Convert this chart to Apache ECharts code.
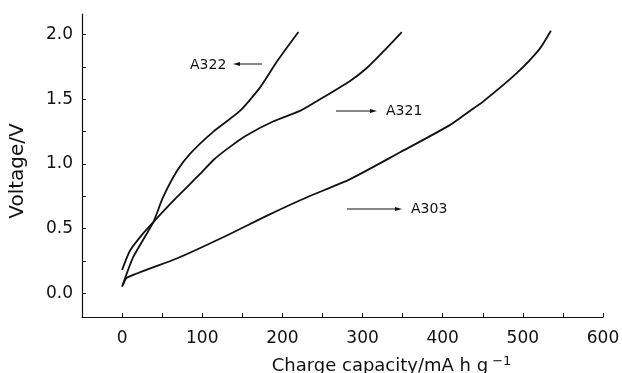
<!DOCTYPE html>
<html>
<head>
<meta charset="utf-8">
<script src="https://cdn.jsdelivr.net/npm/echarts@6/dist/echarts.min.js"></script>
<style>
html,body{margin:0;padding:0;background:#fff;}
#chart{width:622px;height:373px;}
</style>
</head>
<body>
<div id="chart"></div>
<script>
// Data
const capA322 = [0, 14, 39, 51, 69, 85, 114, 147, 172, 193, 220];
const voltA322 = [0.05, 0.28, 0.55, 0.74, 0.95, 1.08, 1.25, 1.41, 1.59, 1.79, 2.02];

const capA321 = [0, 10, 26, 39, 68, 97, 114, 132, 155, 189, 222, 247, 284, 305, 326, 349];
const voltA321 = [0.18, 0.33, 0.46, 0.55, 0.74, 0.92, 1.03, 1.12, 1.22, 1.33, 1.41, 1.50, 1.64, 1.74, 1.87, 2.02];

const capA303 = [1, 6, 69, 132, 181, 230, 284, 347, 409, 434, 450, 492, 521, 535];
const voltA303 = [0.06, 0.12, 0.27, 0.45, 0.60, 0.74, 0.88, 1.09, 1.30, 1.41, 1.48, 1.70, 1.89, 2.03];

const xTickLabels = [0, 100, 200, 300, 400, 500, 600];
const yTickLabels = [0, 0.5, 1.0, 1.5, 2.0];
const seriesNames = ['A322', 'A321', 'A303'];

function pairs(xs, ys) { return xs.map((x, i) => [x, ys[i]]); }

const FONT = 'DejaVu Sans';
const chart = echarts.init(document.getElementById('chart'), null, {renderer: 'canvas'});

const lineStyle = {color: '#111', width: 1.8};

const option = {
  backgroundColor: '#fff',
  animation: false,
  grid: {left: 82, right: 19, top: 14, bottom: 56, containLabel: false, outerBoundsMode: 'none'},
  xAxis: {
    type: 'value',
    min: -50, max: 600,
    interval: 50,
    axisLine: {show: true, onZero: false, lineStyle: {color: '#111', width: 1.2}},
    axisTick: {show: true, inside: true, length: 4, lineStyle: {color: '#111'}},
    splitLine: {show: false},
    axisLabel: {
      customValues: xTickLabels,
      color: '#111', fontFamily: FONT, fontSize: 17, margin: 13,
      formatter: v => String(v)
    },
    name: 'Charge capacity/mA h g{sup|−1}',
    nameLocation: 'middle',
    nameGap: 38,
    nameTextStyle: {
      color: '#111', fontFamily: FONT, fontSize: 18,
      padding: [0, 0, 0, 98],
      rich: {sup: {fontSize: 13, verticalAlign: 'top', padding: [0, 0, 10, 4], color: '#111', fontFamily: FONT}}
    }
  },
  yAxis: {
    type: 'value',
    min: -0.185, max: 2.16,
    axisLine: {show: true, onZero: false, lineStyle: {color: '#111', width: 1.2}},
    axisTick: {show: true, inside: true, length: 4, customValues: [0, 0.25, 0.5, 0.75, 1.0, 1.25, 1.5, 1.75, 2.0], lineStyle: {color: '#111'}},
    splitLine: {show: false},
    axisLabel: {
      customValues: yTickLabels,
      color: '#111', fontFamily: FONT, fontSize: 17, margin: 9,
      formatter: v => v.toFixed(1)
    },
    name: 'Voltage/V',
    nameLocation: 'middle',
    nameGap: 54,
    nameTextStyle: {color: '#111', fontFamily: FONT, fontSize: 20, padding: [0, 11, 0, 0]}
  },
  series: [
    {name: seriesNames[0], type: 'line', data: pairs(capA322, voltA322), smooth: 0.2, showSymbol: false, lineStyle: lineStyle},
    {name: seriesNames[1], type: 'line', data: pairs(capA321, voltA321), smooth: 0.2, showSymbol: false, lineStyle: lineStyle},
    {name: seriesNames[2], type: 'line', data: pairs(capA303, voltA303), smooth: 0.2, showSymbol: false, lineStyle: lineStyle}
  ],
  graphic: [
    {type: 'text', left: 190, top: 58, style: {text: seriesNames[0], fill: '#111', font: '14px "DejaVu Sans"'}},
    {type: 'line', shape: {x1: 236, y1: 64, x2: 262, y2: 64}, style: {stroke: '#111', lineWidth: 1}},
    {type: 'polygon', shape: {points: [[233, 64], [240, 62], [240, 66]]}, style: {fill: '#111'}},

    {type: 'line', shape: {x1: 336, y1: 111, x2: 372, y2: 111}, style: {stroke: '#111', lineWidth: 1}},
    {type: 'polygon', shape: {points: [[377, 111], [370, 109], [370, 113]]}, style: {fill: '#111'}},
    {type: 'text', left: 386, top: 104, style: {text: seriesNames[1], fill: '#111', font: '14px "DejaVu Sans"'}},

    {type: 'line', shape: {x1: 347, y1: 209, x2: 398, y2: 209}, style: {stroke: '#111', lineWidth: 1}},
    {type: 'polygon', shape: {points: [[402, 209], [395, 207], [395, 211]]}, style: {fill: '#111'}},
    {type: 'text', left: 411, top: 202, style: {text: seriesNames[2], fill: '#111', font: '14px "DejaVu Sans"'}}
  ]
};
chart.setOption(option);
</script>
</body>
</html>
